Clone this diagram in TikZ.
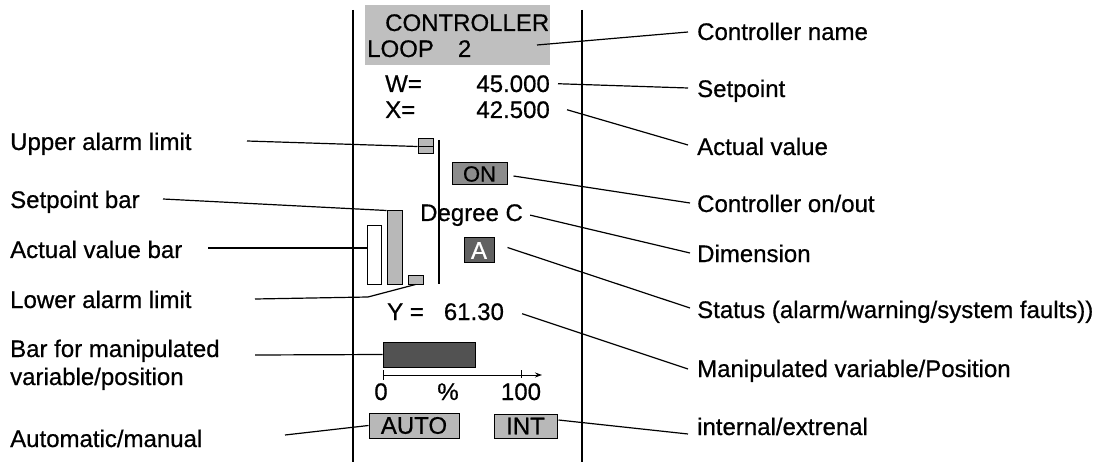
\documentclass[tikz,border=0pt]{standalone}
\usepackage{fontspec}
\setmainfont{Liberation Sans}[FakeBold=0.6]
\usetikzlibrary{calc,arrows.meta}
\begin{document}
\begin{tikzpicture}[x=1pt,y=-1pt,
  every node/.style={font=\fontsize{24}{28}\selectfont, inner sep=0pt},
  lbl/.style={anchor=base west, align=left},
  conn/.style={line width=1.2pt},
  frame/.style={line width=1.2pt},
  lightbox/.style={draw, line width=1pt, fill=black!28},
  darkbox/.style={draw, line width=1pt, fill=black!62},
  plainbox/.style={draw, line width=1pt, fill=white}
]
\useasboundingbox (0,0) rectangle (1105,462);

% panel frame
\draw[frame] (353,10) -- (353,462);
\draw[frame] (582,10) -- (582,462);
\draw[frame] (439,140) -- (439,284);

% controller name
\node[fill=black!25, minimum width=185pt, minimum height=60pt] (name) at (457.5,35) {};
\node[anchor=base west] (ctl) at (385,31) {CONTROLLER};
\node[anchor=base west] (loop) at (367,57) {LOOP\hspace{24pt}2};

% W and X
\node[anchor=base west] (wl) at (385,92) {W=};
\node[anchor=base east] (wv) at (550,92) {45.000};
\node[anchor=base west] (xl) at (385,118) {X=};
\node[anchor=base east] (xv) at (550,118) {42.500};

% bars
\node[lightbox, minimum width=15pt, minimum height=15pt] (ua) at (425.5,146.5) {};
\draw[line width=0.6pt] (ua.west) -- (ua.east);
\node[lightbox, minimum width=15pt, minimum height=73pt] (sb) at (394.5,247.5) {};
\node[plainbox, minimum width=14pt, minimum height=58pt] (ab) at (374,255) {};
\node[lightbox, minimum width=15pt, minimum height=8pt] (la) at (415.5,280) {};

% ON, Degree C, A
\node[darkbox, fill=black!45, minimum width=55pt, minimum height=22pt, font=\fontsize{22}{24}\selectfont] (on) at (479.5,174) {ON};
\node[anchor=base west] (deg) at (420,221) {Degree C};
\node[darkbox, minimum width=30pt, minimum height=25pt, text=white] (abox) at (479,250.5) {A};

% Y value
\node[anchor=base west] (yv) at (387,320) {Y =\hspace{20pt}61.30};

% manipulated variable bar and scale
\node[darkbox, fill=black!68, minimum width=92pt, minimum height=25pt] (mb) at (429,354.5) {};
\draw[line width=0.9pt, -{Stealth[length=7pt,width=5pt]}] (383,375) -- (542,375);
\draw[line width=0.9pt] (383,370) -- (383,380);
\draw[line width=0.9pt] (521,370) -- (521,378);
\node[anchor=base] (s0) at (381,400) {0};
\node[anchor=base] (sp) at (448,400) {\%};
\node[anchor=base] (s100) at (521,400) {100};

% AUTO / INT
\node[lightbox, minimum width=90pt, minimum height=25pt] (auto) at (414,425.5) {AUTO};
\node[lightbox, minimum width=63pt, minimum height=24pt] (int) at (525.5,426) {INT};

% left labels
\node[lbl] (lUA) at (10,150) {Upper alarm limit};
\node[lbl] (lSB) at (10,208) {Setpoint bar};
\node[lbl] (lAB) at (10,258) {Actual value bar};
\node[lbl] (lLA) at (10,308) {Lower alarm limit};
\node[lbl] (lMB) at (10,385) {Bar for manipulated\\variable/position};
\node[lbl] (lAM) at (10,447) {Automatic/manual};

% right labels
\node[lbl] (rCN) at (697,40) {Controller name};
\node[lbl] (rSP) at (697,97) {Setpoint};
\node[lbl] (rAV) at (697,155) {Actual value};
\node[lbl] (rOO) at (697,212) {Controller on/out};
\node[lbl] (rDI) at (697,262) {Dimension};
\node[lbl] (rST) at (697,318) {Status (alarm/warning/system faults))};
\node[lbl] (rMV) at (697,377) {Manipulated variable/Position};
\node[lbl] (rIE) at (697,435) {internal/extrenal};

% left connectors
\coordinate (cUA) at (247,141);
\coordinate (cSB) at (163,199);
\coordinate (cAB) at (208,248);
\coordinate (cLA) at (255,299);
\coordinate (kLA) at (368,297);
\coordinate (cMB) at (255,355);
\coordinate (cAM) at (285,435);
\draw[conn] (cUA) -- (ua.west);
\draw[conn] (cSB) -- (sb.north west);
\draw[conn] (cAB) -- (cAB -| ab.west);
\draw[conn] (cLA) -- (kLA) -- (la.south);
\draw[conn] (cMB) -- (mb.west);
\draw[conn] (cAM) -- (auto.west);

% right connectors
\coordinate (sCN) at (537,45);
\draw[conn] (sCN) -- ($(rCN.base west)+(-9,-8)$);
\draw[conn] ($(wv.east)+(8,0)$) -- ($(rSP.base west)+(-9,-9)$);
\draw[conn] ($(xv.east)+(17,0)$) -- ($(rAV.base west)+(-9,-10)$);
\draw[conn] ($(on.east)+(6,2)$) -- ($(rOO.base west)+(-7,-9)$);
\draw[conn] ($(deg.east)+(7,0)$) -- ($(rDI.base west)+(-7,-9)$);
\draw[conn] ($(abox.east)+(13,-3)$) -- ($(rST.base west)+(-7,-10)$);
\draw[conn] ($(yv.east)+(18,2)$) -- ($(rMV.base west)+(-9,-8)$);
\draw[conn] ($(int.east)+(1,-6)$) -- ($(rIE.base west)+(-9,-1)$);
\end{tikzpicture}
\end{document}
